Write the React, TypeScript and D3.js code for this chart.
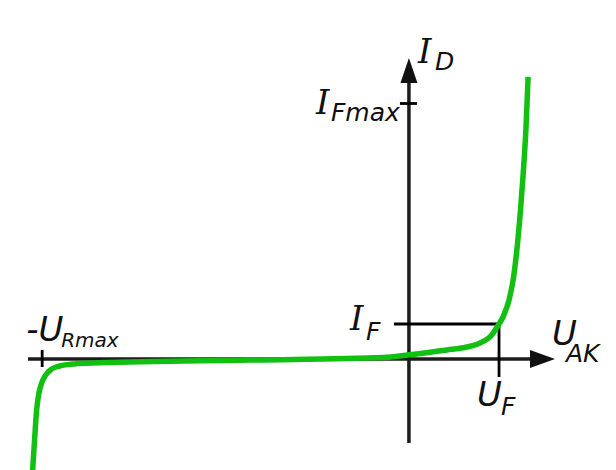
import React from "react";
import * as d3 from "d3";

// Diode current–voltage characteristic (schematic units: volts, milliamps)
const uAK = [
  -2.925, -2.909, -2.893, -2.878, -2.854, -2.823, -2.777, -2.714, -2.598, -2.403,
  -1.237, -0.2, 0.0, 0.296, 0.42, 0.552, 0.63, 0.7, 0.731, 0.778, 0.813, 0.844,
  0.867, 0.886, 0.91, 0.926,
];
const iD = [
  -32.3, -23.1, -14.6, -10.3, -6.9, -4.6, -2.9, -2.0, -1.4, -1.1,
  -0.3, 0.4, 1.2, 2.6, 3.2, 4.6, 6.3, 10, 12, 16.9, 23.4, 33.1,
  42.6, 52, 66.3, 80.6,
];

// Marked operating values
const U_F = 0.7;
const I_F = 10;
const U_RMAX = -2.85;
const I_FMAX = 73;

// Axis extents
const uExtent = [-2.96, 1.135];
const iExtent = [-24, 86];

const W = 616;
const H = 470;

const x = d3.scaleLinear().domain(uExtent).range([28, 555]);
const y = d3.scaleLinear().domain(iExtent).range([443, 58]);

const points: [number, number][] = uAK.map((u, k) => [u, iD[k]]);

const curve = d3
  .line<[number, number]>()
  .x((d) => x(d[0]))
  .y((d) => y(d[1]))
  .curve(d3.curveMonotoneX);

const SANS = "'DejaVu Sans', Verdana, sans-serif";
const SERIF = "'DejaVu Serif', serif";

function Label({
  main,
  sub,
  x0,
  y0,
  subDx,
  subDy,
  subSize = 25,
  mainSize = 34,
  prefix,
}: {
  main: string;
  sub: string;
  x0: number;
  y0: number;
  subDx: number;
  subDy: number;
  subSize?: number;
  mainSize?: number;
  prefix?: string;
}) {
  return (
    <g fill="#111" fontStyle="italic">
      <text x={x0} y={y0} fontSize={mainSize} fontFamily={main === "I" ? SERIF : SANS}>
        {prefix ? <tspan fontFamily={SANS}>{prefix}</tspan> : null}
        {main}
      </text>
      <text x={x0 + subDx} y={y0 + subDy} fontSize={subSize} fontFamily={SANS}>
        {sub}
      </text>
    </g>
  );
}

export default function App() {
  const x0 = x(0);
  const y0 = y(0);
  const xEnd = x(uExtent[1]);
  const yTop = y(iExtent[1]);
  const ax = 3.5;

  return (
    <svg
      width={W}
      height={H}
      viewBox={`0 0 ${W} ${H}`}
      style={{ position: "absolute", left: 0, top: 0, background: "#fff" }}
    >
      <rect width={W} height={H} fill="#fff" />

      {/* axes */}
      <g stroke="#1c1c1c" strokeWidth={ax}>
        <line x1={x(uExtent[0])} y1={y0} x2={xEnd - 20} y2={y0} />
        <line x1={x0} y1={y(iExtent[0])} x2={x0} y2={yTop + 20} />
      </g>
      <g fill="#111">
        <path d={`M${xEnd},${y0} L${xEnd - 25},${y0 - 9} L${xEnd - 25},${y0 + 9} Z`} />
        <path d={`M${x0},${yTop} L${x0 - 8.5},${yTop + 25} L${x0 + 8.5},${yTop + 25} Z`} />
      </g>

      {/* ticks and operating point guides */}
      <g stroke="#000" strokeWidth={2.8}>
        <line x1={x0 - 9} y1={y(I_FMAX)} x2={x0 + 8} y2={y(I_FMAX)} />
        <line x1={x(U_RMAX)} y1={y0 - 9} x2={x(U_RMAX)} y2={y0 + 8} />
        <line x1={x0 - 15} y1={y(I_F)} x2={x(U_F)} y2={y(I_F)} />
        <line x1={x(U_F)} y1={y(I_F)} x2={x(U_F)} y2={y0 + 18} />
      </g>

      {/* characteristic curve */}
      <path d={curve(points) ?? ""} fill="none" stroke="#12c012" strokeWidth={5.5} />

      {/* labels */}
      <Label main="I" sub="D" x0={x0 + 9} y0={yTop + 5} subDx={17} subDy={7} />
      <Label main="I" sub="Fmax" x0={x0 - 93} y0={y(I_FMAX) + 10} subDx={15} subDy={7} />
      <Label main="U" sub="Rmax" prefix="-" x0={x(U_RMAX) - 16} y0={y0 - 18} subDx={35} subDy={6} subSize={20} />
      <Label main="I" sub="F" x0={x0 - 59} y0={y(I_F) + 6} subDx={16} subDy={10} />
      <Label main="U" sub="AK" x0={xEnd - 3} y0={y0 - 14} subDx={14} subDy={17} />
      <Label main="U" sub="F" x0={x(U_F) - 22} y0={y0 + 47} subDx={24} subDy={9} />
    </svg>
  );
}
